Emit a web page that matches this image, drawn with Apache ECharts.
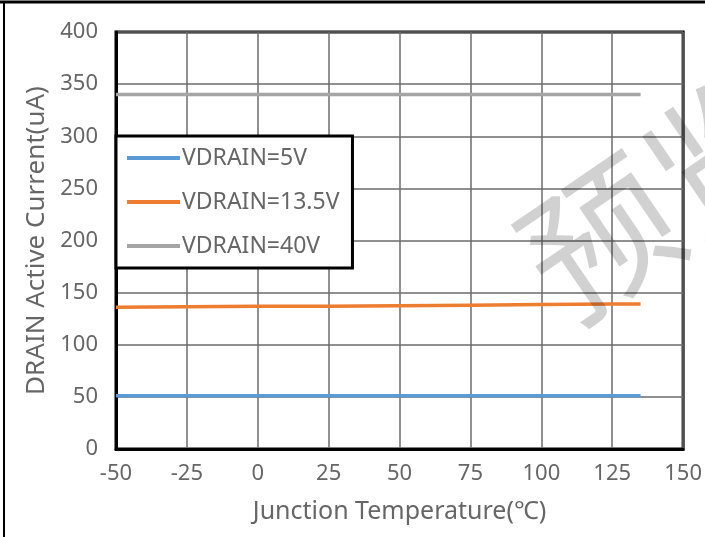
<!DOCTYPE html>
<html>
<head>
<meta charset="utf-8">
<script src="https://cdn.jsdelivr.net/npm/echarts@6/dist/echarts.min.js"></script>
<style>
  html, body { margin: 0; padding: 0; background: #fff; }
  #chart { width: 705px; height: 537px; }
</style>
</head>
<body>
<div id="chart"></div>
<script>
// junction temperature (℃) where each curve was sampled
const temps = [-50, -25, 0, 25, 50, 75, 100, 125, 135];
// DRAIN active current (uA)
const vdrain5 = [51, 51, 51, 51, 51, 51, 51, 51, 51];
const vdrain13 = [136, 136.5, 137, 137, 137.5, 138, 138.5, 139, 139];
const vdrain40 = [340, 340, 340, 340, 340, 340, 340, 340, 340];
const seriesNames = ['VDRAIN=5V', 'VDRAIN=13.5V', 'VDRAIN=40V'];
const colors = ['#5B9BD5', '#ED7D31', '#A5A5A5'];

const textGray = '#666666';
const font = 'Noto Sans';

let chart = echarts.init(document.getElementById('chart'));

function pairs(vals) {
    return temps.map(function (t, i) { return [t, vals[i]]; });
}

let option = {
    backgroundColor: '#fff',
    animation: false,
    color: colors,
    grid: {
        left: 116, right: 19, top: 32, bottom: 88,
        show: true,
        borderColor: '#000',
        borderWidth: 3
    },
    legend: {
        orient: 'vertical',
        left: 116,
        top: 136,
        icon: 'rect',
        itemWidth: 53,
        itemHeight: 4,
        itemGap: 20,
        padding: [10, 13, 10, 11],
        backgroundColor: '#fff',
        borderColor: '#000',
        borderWidth: 3,
        textStyle: { color: textGray, fontSize: 23, fontFamily: font, lineHeight: 24, padding: [0, 0, 0, -3] },
        data: seriesNames
    },
    xAxis: {
        type: 'value',
        min: -50, max: 150, interval: 25,
        name: 'Junction Temperature(℃)',
        nameLocation: 'middle',
        nameGap: 50,
        nameTextStyle: { color: textGray, fontSize: 25, fontFamily: font },
        axisLine: { show: true, onZero: false, lineStyle: { color: '#000', width: 3 } },
        axisTick: { show: false },
        axisLabel: { color: textGray, fontSize: 22, fontFamily: font, margin: 14 },
        splitLine: { show: true, lineStyle: { color: '#6b6b6b', width: 1.5 } }
    },
    yAxis: {
        type: 'value',
        min: 0, max: 400, interval: 50,
        name: 'DRAIN Active Current(uA)',
        nameLocation: 'middle',
        nameGap: 63,
        nameTextStyle: { color: textGray, fontSize: 26, fontFamily: font },
        axisLine: { show: true, onZero: false, lineStyle: { color: '#000', width: 3 } },
        axisTick: { show: false },
        axisLabel: { color: textGray, fontSize: 22, fontFamily: font, margin: 18 },
        splitLine: { show: true, lineStyle: { color: '#6b6b6b', width: 1.5 } }
    },
    graphic: [
        { type: 'line', shape: { x1: 0, y1: 2, x2: 705, y2: 2 }, style: { stroke: '#000', lineWidth: 3 }, z: 100 },
        { type: 'line', shape: { x1: 4, y1: 2, x2: 4, y2: 537 }, style: { stroke: '#000', lineWidth: 2 }, z: 100 },
        {
            type: 'text', x: 662, y: 196, rotation: 0.6, z: 50,
            style: {
                text: '预览', fontSize: 150, fontFamily: 'Noto Sans CJK SC', fontWeight: 'normal',
                fill: 'rgba(0,0,0,0.18)', align: 'center', verticalAlign: 'middle'
            }
        }
    ],
    series: [
        { name: seriesNames[0], type: 'line', data: pairs(vdrain5), showSymbol: false, lineStyle: { width: 3.5 } },
        { name: seriesNames[1], type: 'line', data: pairs(vdrain13), showSymbol: false, lineStyle: { width: 3.5 } },
        { name: seriesNames[2], type: 'line', data: pairs(vdrain40), showSymbol: false, lineStyle: { width: 3.5 } }
    ]
};
chart.setOption(option);
</script>
</body>
</html>
